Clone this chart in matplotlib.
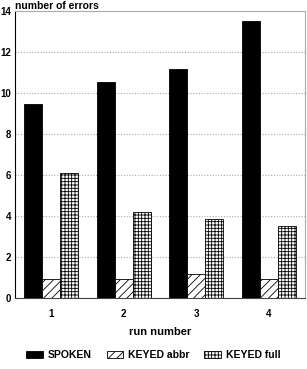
import numpy as np
import matplotlib
matplotlib.use("Agg")
import matplotlib.pyplot as plt

plt.rcParams['font.family'] = ['Liberation Sans', 'DejaVu Sans']
plt.rcParams['font.weight'] = 'bold'
plt.rcParams['hatch.linewidth'] = 0.6

# data
runs = [1, 2, 3, 4]
spoken = [9.45, 10.52, 11.19, 13.5]
keyed_abbr = [0.92, 0.92, 1.17, 0.92]
keyed_full = [6.1, 4.18, 3.84, 3.51]
yticks = [0, 2, 4, 6, 8, 10, 12, 14]

fig = plt.figure(figsize=(3.07, 3.69), dpi=100)
ax = fig.add_axes([0.049, 0.1924, 0.9446, 0.7778])

x = np.array(runs)
w = 0.25
ax.bar(x - w, spoken, w, color='black', edgecolor='black', linewidth=0.6, label='SPOKEN', zorder=3)
ax.bar(x, keyed_abbr, w, color='white', edgecolor='black', hatch='////', linewidth=0.6, label='KEYED abbr', zorder=3)
ax.bar(x + w, keyed_full, w, color='white', edgecolor='black', hatch='+++++', linewidth=0.6, label='KEYED full', zorder=3)

ax.set_xlim(0.5, 4.5)
ax.set_ylim(0, 14)
ax.set_yticks(yticks)
ax.set_xticks(runs)
ax.tick_params(axis='both', length=0, labelsize=7)
ax.tick_params(axis='y', pad=3)
ax.tick_params(axis='x', pad=8)
ax.yaxis.grid(True, linestyle=(0, (1, 1.5)), color='#aaaaaa', linewidth=0.8, zorder=0)

ax.spines['left'].set_color('black')
ax.spines['bottom'].set_color('#444444')
ax.spines['top'].set_color('#aaaaaa')
ax.spines['right'].set_color('#aaaaaa')
for s in ax.spines.values():
    s.set_linewidth(0.8)

ax.set_xlabel('run number', fontsize=8, fontweight='bold', labelpad=6)
fig.text(0.05, 0.998, 'number of errors', fontsize=7.5, fontweight='bold', va='top', ha='left')

fig.legend(loc='center', bbox_to_anchor=(0.5, 0.038), ncol=3, frameon=False,
           fontsize=7.5, handlelength=1.6, handleheight=0.7, columnspacing=1.4, handletextpad=0.5)

fig.savefig('out.png', dpi=100)
